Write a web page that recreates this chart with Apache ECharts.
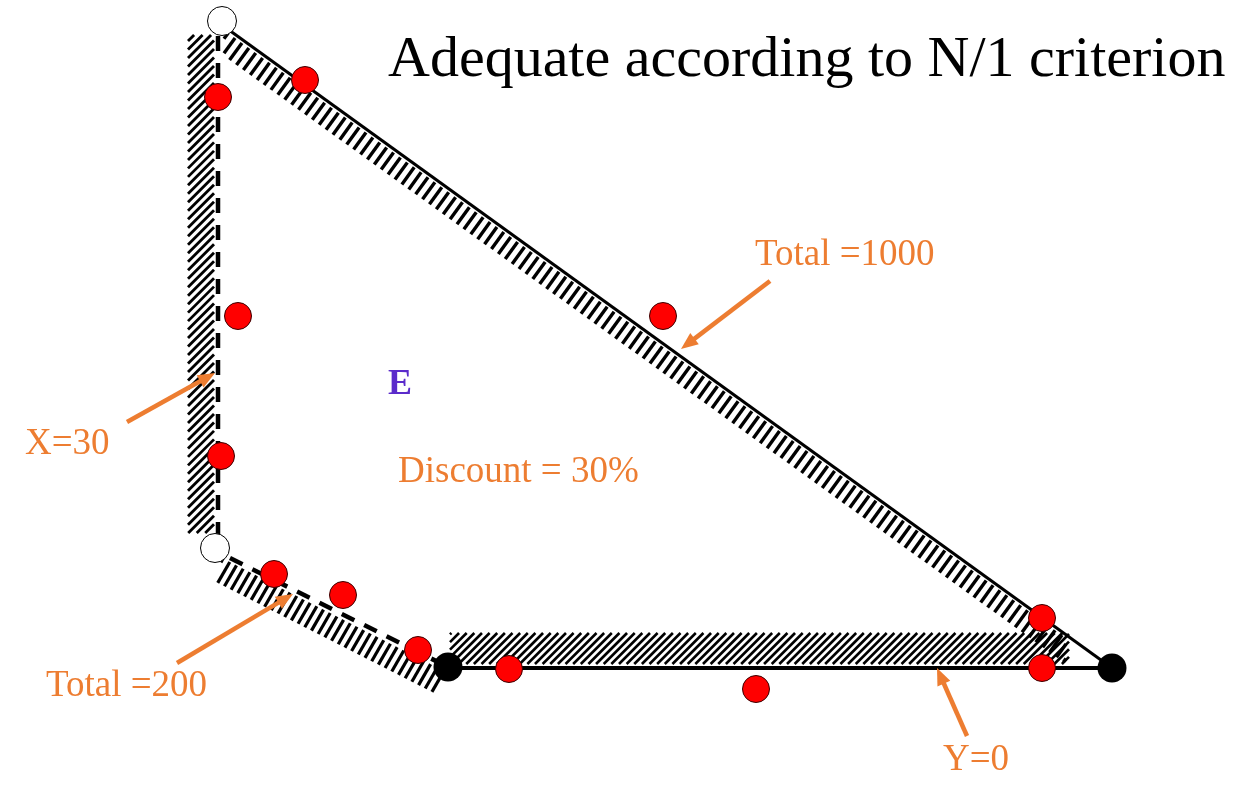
<!DOCTYPE html>
<html>
<head>
<meta charset="utf-8">
<script src="https://cdn.jsdelivr.net/npm/echarts@6/dist/echarts.min.js"></script>
<style>html,body{margin:0;padding:0;background:#fff}#c{width:1259px;height:802px}</style>
</head>
<body>
<div id="c"></div>
<script>
// ---- data (diagram units) ----
const redPoints = [[218,97],[305,80],[238,316],[221,456],[274,574],[343,595],[418,650],[509,669],[756,689],[663,316],[1042,618],[1042,668]];
const blackPoints = [[448,667],[1112,668]];
const openPoints = [[222,21],[215,548]];
const total1000Line = [[229,30],[1112,668]];
const y0Line = [[448,668],[1112,668]];
const x30Line = [[218,36],[218,536]];
const total200Line = [[230,558],[448,667]];
const bandX30 = [[188,35],[214,35],[214,533],[188,533]];
const bandTotal1000 = [[224,30],[1066,638],[1066,664],[224,56]];
const bandTotal200 = [[222,558],[446,672],[436,694],[216,582]];
const bandY0 = [[450,633],[1069,633],[1069,664],[450,664]];
const labelTexts = ['Adequate according to N/1 criterion','Total =1000','X=30','Total =200','Y=0','Discount = 30%','E'];
const labelAnchors = [[388,61],[755,255],[25,444],[46,686],[943,760],[398,472],[388,385]];
const arrowTails = [[770,281],[127,422],[177,663],[967,736]];
const arrowTips = [[681,349],[215,373],[293,594],[937,668]];

// ---- styles ----
const bands = [bandX30, bandTotal1000, bandTotal200, bandY0];
const hatchStyles = [
  {angle:45, spacing:6, width:2.8},
  {angle:54, spacing:8.5, width:3.4},
  {angle:60, spacing:7.5, width:3.2},
  {angle:45, spacing:5.4, width:2.6}
];
const labelStyles = [
  {font:'58px "Liberation Serif"', fill:'#000'},
  {font:'37px "Liberation Serif"', fill:'#ED7D31'},
  {font:'37px "Liberation Serif"', fill:'#ED7D31'},
  {font:'37px "Liberation Serif"', fill:'#ED7D31'},
  {font:'37px "Liberation Serif"', fill:'#ED7D31'},
  {font:'37px "Liberation Serif"', fill:'#ED7D31'},
  {font:'bold 36px "Liberation Serif"', fill:'#5B2BCB'}
];
const ORANGE = '#ED7D31';

function hatchSegments(pts, angleDeg, spacing) {
  const a = angleDeg * Math.PI / 180;
  const d = [Math.cos(a), -Math.sin(a)];
  const n = [-d[1], d[0]];
  let cmin = Infinity, cmax = -Infinity;
  pts.forEach(p => { const c = p[0]*n[0] + p[1]*n[1]; cmin = Math.min(cmin, c); cmax = Math.max(cmax, c); });
  const segs = [];
  for (let c = Math.ceil(cmin/spacing)*spacing; c <= cmax; c += spacing) {
    const p0 = [n[0]*c, n[1]*c];
    const ts = [];
    for (let i = 0; i < pts.length; i++) {
      const A = pts[i], B = pts[(i+1) % pts.length];
      const e = [B[0]-A[0], B[1]-A[1]];
      const den = d[0]*e[1] - d[1]*e[0];
      if (Math.abs(den) < 1e-9) continue;
      const w = [A[0]-p0[0], A[1]-p0[1]];
      const t = (w[0]*e[1] - w[1]*e[0]) / den;
      const u = (w[0]*d[1] - w[1]*d[0]) / den;
      if (u >= -1e-9 && u <= 1 + 1e-9) ts.push(t);
    }
    if (ts.length >= 2) {
      const t0 = Math.min(...ts), t1 = Math.max(...ts);
      if (t1 - t0 > 0.5) segs.push([p0[0]+d[0]*t0, p0[1]+d[1]*t0, p0[0]+d[0]*t1, p0[1]+d[1]*t1]);
    }
  }
  return segs;
}

const chart = echarts.init(document.getElementById('c'), null, {renderer:'canvas'});
const lineSeries = (data, width, type, z) => ({
  type:'line', data, showSymbol:false, symbol:'none', silent:true, z,
  lineStyle:{color:'#000', width, type, cap:'butt'}, animation:false
});
chart.setOption({
  animation:false,
  backgroundColor:'#fff',
  grid:{left:0, right:0, top:0, bottom:0},
  xAxis:{type:'value', min:0, max:1259, show:false},
  yAxis:{type:'value', min:0, max:802, inverse:true, show:false},
  series:[
    {
      type:'custom', z:1, silent:true, clip:false,
      data: bands.map((b,i)=>[i, i]),
      renderItem:(params, api) => {
        const i = params.dataIndex;
        const pts = bands[i].map(p => api.coord(p));
        const st = hatchStyles[i];
        return {type:'group', children: hatchSegments(pts, st.angle, st.spacing).map(s => ({
          type:'line', shape:{x1:s[0], y1:s[1], x2:s[2], y2:s[3]},
          style:{stroke:'#000', lineWidth:st.width, lineCap:'butt'}
        }))};
      }
    },
    lineSeries(total1000Line, 3, 'solid', 2),
    lineSeries(y0Line, 4, 'solid', 2),
    lineSeries(x30Line, 4.5, [15,12], 2),
    lineSeries(total200Line, 4.5, [14,11], 2),
    {type:'scatter', z:3, silent:true, data:redPoints, symbol:'circle', symbolSize:27,
     itemStyle:{color:'#FF0000', borderColor:'#3a0000', borderWidth:1, opacity:1}},
    {type:'scatter', z:3, silent:true, data:blackPoints, symbol:'circle', symbolSize:29,
     itemStyle:{color:'#000', opacity:1}},
    {type:'scatter', z:3, silent:true, data:openPoints, symbol:'circle', symbolSize:29,
     itemStyle:{color:'#fff', borderColor:'#000', borderWidth:1, opacity:1}},
    {
      type:'custom', z:4, silent:true, clip:false,
      data: arrowTails.map((t,i)=>[i, i]),
      renderItem:(params, api) => {
        const i = params.dataIndex;
        const a = api.coord(arrowTails[i]), b = api.coord(arrowTips[i]);
        const dx = b[0]-a[0], dy = b[1]-a[1], L = Math.hypot(dx, dy);
        const ux = dx/L, uy = dy/L, px = -uy, py = ux;
        const hl = 17, hw = 7;
        const bx = b[0]-ux*hl, by = b[1]-uy*hl;
        return {type:'group', children:[
          {type:'line', shape:{x1:a[0], y1:a[1], x2:bx+ux*2, y2:by+uy*2}, style:{stroke:ORANGE, lineWidth:4.5}},
          {type:'polygon', shape:{points:[[b[0],b[1]],[bx+px*hw, by+py*hw],[bx-px*hw, by-py*hw]]}, style:{fill:ORANGE}}
        ]};
      }
    },
    {
      type:'custom', z:5, silent:true, clip:false,
      data: labelTexts.map((t,i)=>[i, i]),
      renderItem:(params, api) => {
        const i = params.dataIndex;
        const p = api.coord(labelAnchors[i]);
        return {type:'text', x:p[0], y:p[1], style:{
          text:labelTexts[i], font:labelStyles[i].font, fill:labelStyles[i].fill,
          align:'left', verticalAlign:'middle'
        }};
      }
    }
  ]
});
</script>
</body>
</html>
